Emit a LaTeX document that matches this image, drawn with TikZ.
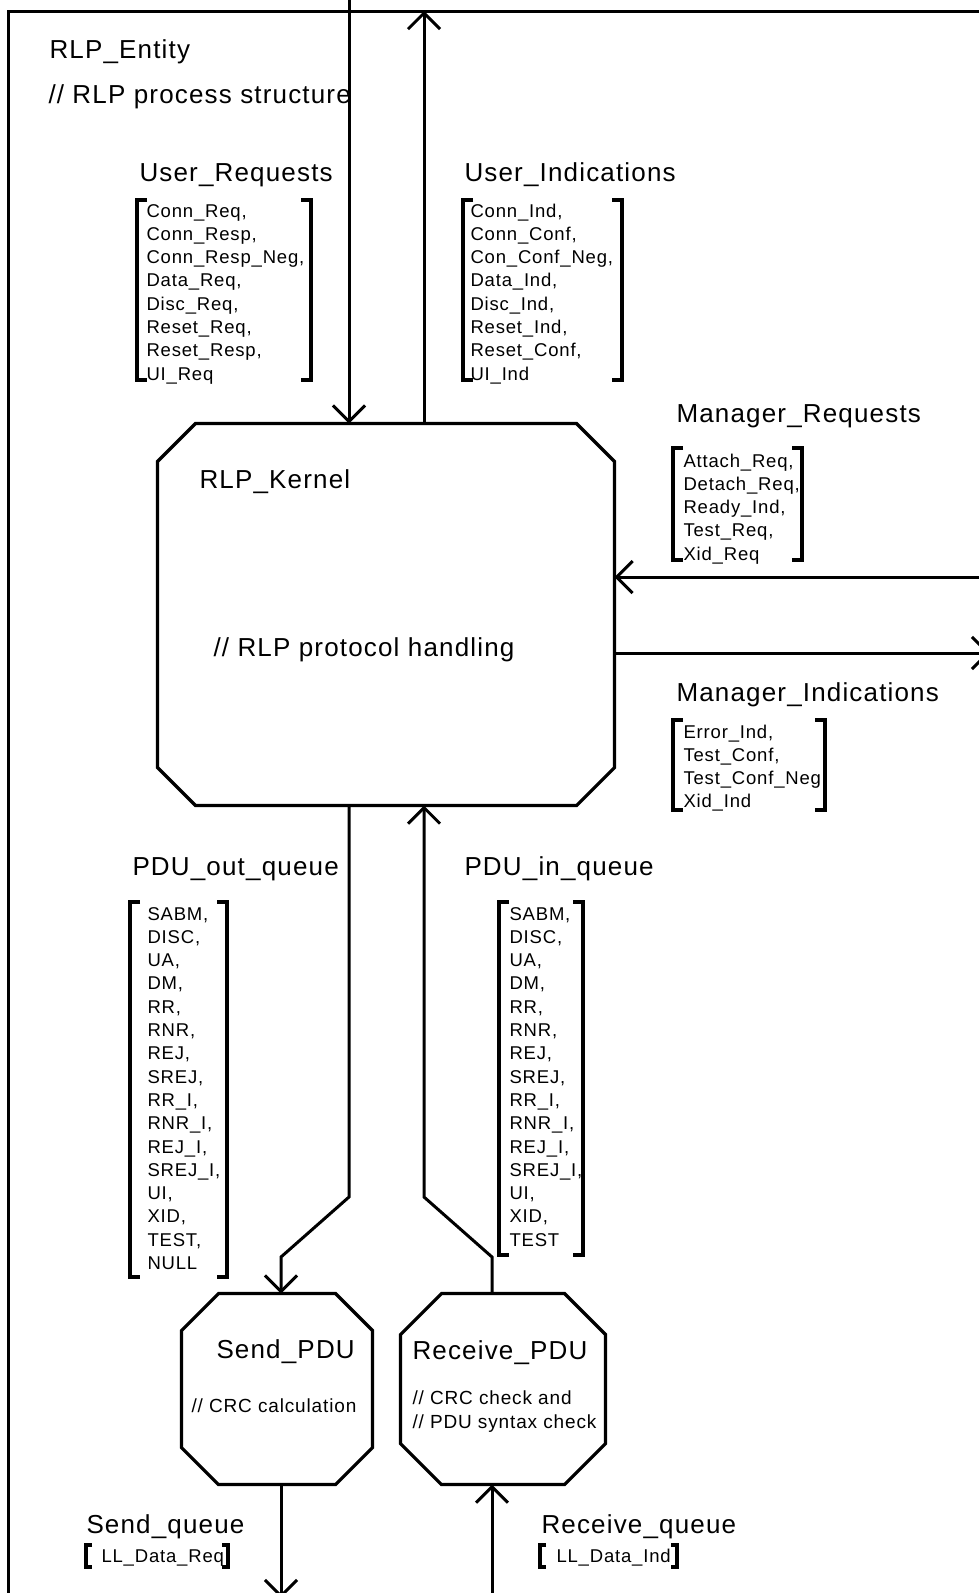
\documentclass[tikz,border=0pt]{standalone}
\usepackage{fontspec}
\setmainfont{Liberation Sans}
\newfontfamily\lblfont[LetterSpace=4.5]{Liberation Sans}
\usetikzlibrary{arrows.meta}
\newcommand\brak[5]{%
  \draw[brk] (#1+#5,#3) -- (#1,#3) -- (#1,#4) -- (#1+#5,#4);
  \draw[brk] (#2-#5,#3) -- (#2,#3) -- (#2,#4) -- (#2-#5,#4);}
\newcommand\octo[2]{%
  \draw[octo] ([xshift=#2]#1.north west) -- ([xshift=-#2]#1.north east)
   -- ([yshift=-#2]#1.north east) -- ([yshift=#2]#1.south east)
   -- ([xshift=-#2]#1.south east) -- ([xshift=#2]#1.south west)
   -- ([yshift=#2]#1.south west) -- ([yshift=-#2]#1.north west) -- cycle;}
\begin{document}
\begin{tikzpicture}[x=1pt,y=-1pt,line width=3pt,
  big/.style={font=\lblfont\fontsize{26}{30}\selectfont, inner sep=0pt, anchor=base west},
  small/.style={font=\lblfont\fontsize{18.5}{23.3}\selectfont, inner sep=0pt, anchor=base west},
  note/.style={font=\lblfont\fontsize{19}{24}\selectfont, inner sep=0pt, anchor=base west},
  blk/.style={inner sep=0pt, draw=none},
  octo/.style={line width=3.2pt, line join=miter},
  arr/.style={-{Straight Barb[length=16pt,width=32pt]}},
  brk/.style={line width=4pt, line join=miter},
]
\useasboundingbox (0,0) rectangle (979,1593);
% frame
\draw[line join=miter] (8,1610) -- (8,11) -- (1000,11);
% blocks
\node[blk, minimum width=454pt, minimum height=379pt] (kernel) at (386,614.5) {};
\node[blk, minimum width=188pt, minimum height=188pt] (send) at (277,1389) {};
\node[blk, minimum width=202pt, minimum height=188pt] (recv) at (503,1389) {};
\octo{kernel}{38pt}
\octo{send}{37pt}
\octo{recv}{41pt}
% connectors
\coordinate (urtop) at (349,-5);
\coordinate (uitop) at (424,11);
\coordinate (mrin) at (1000,577);
\coordinate (miout) at (990,653);
\coordinate (outbend) at (281,1257);
\coordinate (inbend) at (492,1257);
\coordinate (sq) at (281,1598);
\coordinate (rq) at (492,1610);
\draw[arr] (urtop) -- (urtop |- kernel.north);
\draw[arr] (uitop |- kernel.north) -- (uitop);
\draw[arr] (mrin) -- (mrin -| kernel.east);
\draw[arr] (miout -| kernel.east) -- (miout);
\draw[arr, line join=miter] (urtop |- kernel.south) -- (349,1197) -- (outbend) -- (outbend |- send.north);
\draw[arr, line join=miter] (inbend |- recv.north) -- (inbend) -- (424,1197) -- (uitop |- kernel.south);
\draw[arr] (sq |- send.south) -- (sq);
\draw[arr] (rq) -- (rq |- recv.south);
% labels
\node[big] (entity) at (48,58) {RLP\_Entity};
\node[big] (entcmt) at (47,103) {// RLP process structure};
\node[big] (urlbl) at (138,181) {User\_Requests};
\node[big] (uilbl) at (463,181) {User\_Indications};
\node[big] (mrlbl) at (675,422) {Manager\_Requests};
\node[big] (milbl) at (675,701) {Manager\_Indications};
\node[big] (klbl) at (198,488) {RLP\_Kernel};
\node[big] (kcmt) at (212,656) {// RLP protocol handling};
\node[big] (outlbl) at (131,875) {PDU\_out\_queue};
\node[big] (inlbl) at (463,875) {PDU\_in\_queue};
\node[big] (sendlbl) at (215,1358) {Send\_PDU};
\node[note] (sendcmt) at (190,1412) {// CRC calculation};
\node[big] (recvlbl) at (411,1359) {Receive\_PDU};
\node[note] (recvcmt) at (411,1404) {\vtop{\hbox{// CRC check and}\hbox{// PDU syntax check}}};
\node[big] (sqlbl) at (85,1533) {Send\_queue};
\node[small] (sqlist) at (100,1562) {LL\_Data\_Req};
\node[big] (rqlbl) at (540,1533) {Receive\_queue};
\node[small] (rqlist) at (555,1562) {LL\_Data\_Ind};
% lists
\node[small] (urlist) at (145,217) {\vtop{\hbox{Conn\_Req,}\hbox{Conn\_Resp,}\hbox{Conn\_Resp\_Neg,}\hbox{Data\_Req,}\hbox{Disc\_Req,}\hbox{Reset\_Req,}\hbox{Reset\_Resp,}\hbox{UI\_Req}}};
\node[small] (uilist) at (469,217) {\vtop{\hbox{Conn\_Ind,}\hbox{Conn\_Conf,}\hbox{Con\_Conf\_Neg,}\hbox{Data\_Ind,}\hbox{Disc\_Ind,}\hbox{Reset\_Ind,}\hbox{Reset\_Conf,}\hbox{UI\_Ind}}};
\node[small] (mrlist) at (682,467) {\vtop{\hbox{Attach\_Req,}\hbox{Detach\_Req,}\hbox{Ready\_Ind,}\hbox{Test\_Req,}\hbox{Xid\_Req}}};
\node[small] (milist) at (682,738) {\vtop{\hbox{Error\_Ind,}\hbox{Test\_Conf,}\hbox{Test\_Conf\_Neg}\hbox{Xid\_Ind}}};
\node[small] (outlist) at (146,920) {\vtop{\hbox{SABM,}\hbox{DISC,}\hbox{UA,}\hbox{DM,}\hbox{RR,}\hbox{RNR,}\hbox{REJ,}\hbox{SREJ,}\hbox{RR\_I,}\hbox{RNR\_I,}\hbox{REJ\_I,}\hbox{SREJ\_I,}\hbox{UI,}\hbox{XID,}\hbox{TEST,}\hbox{NULL}}};
\node[small] (inlist) at (508,920) {\vtop{\hbox{SABM,}\hbox{DISC,}\hbox{UA,}\hbox{DM,}\hbox{RR,}\hbox{RNR,}\hbox{REJ,}\hbox{SREJ,}\hbox{RR\_I,}\hbox{RNR\_I,}\hbox{REJ\_I,}\hbox{SREJ\_I,}\hbox{UI,}\hbox{XID,}\hbox{TEST}}};
% brackets
\brak{137}{311}{200}{380}{10}
\brak{463}{622}{200}{380}{10}
\brak{673}{802}{448}{560}{10}
\brak{673}{825}{720}{810}{10}
\brak{130}{227}{902}{1277}{10}
\brak{499}{583}{902}{1255}{10}
\brak{86}{228}{1545}{1567}{6}
\brak{540}{677}{1545}{1567}{6}
\end{tikzpicture}
\end{document}
